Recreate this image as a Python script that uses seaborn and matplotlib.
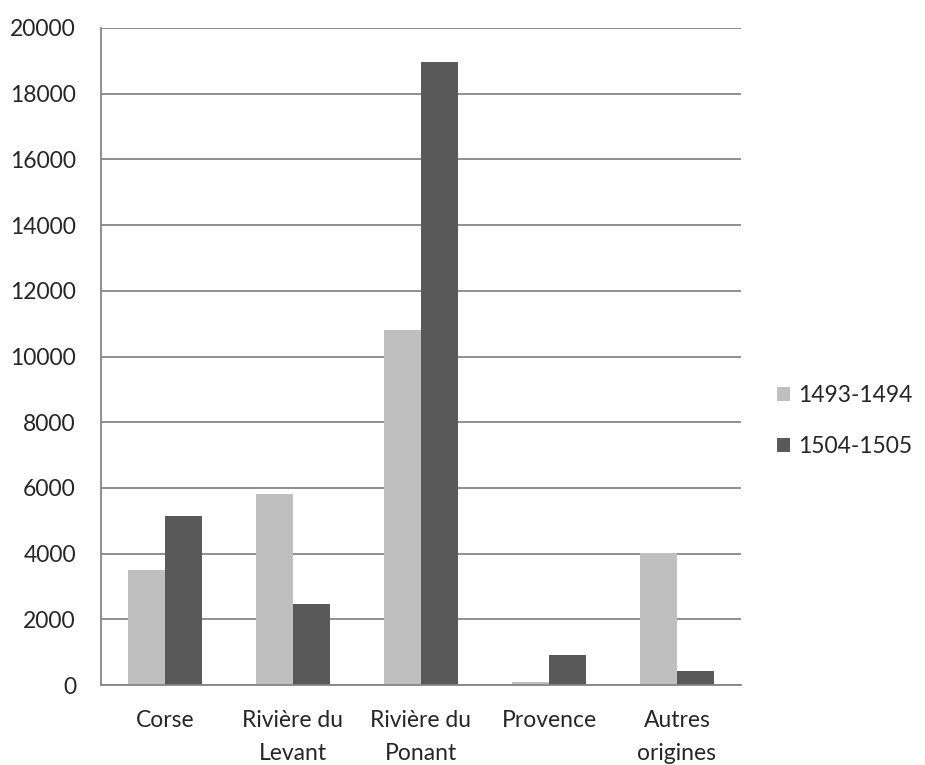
import matplotlib
matplotlib.use("Agg")
import matplotlib.pyplot as plt
import seaborn as sns
import pandas as pd
import numpy as np
from matplotlib.patches import Patch

categories = ["Corse", "Rivière du\nLevant", "Rivière du\nPonant", "Provence", "Autres\norigines"]
series_names = ["1493-1494", "1504-1505"]
values_1493 = [3510, 5820, 10800, 80, 4030]
values_1504 = [5130, 2480, 18980, 920, 420]
y_ticks = [0, 2000, 4000, 6000, 8000, 10000, 12000, 14000, 16000, 18000, 20000]

colors = ["#BFBFBF", "#595959"]
grid_color = "#868686"

df = pd.DataFrame({
    "cat": categories * 2,
    "period": [series_names[0]] * len(categories) + [series_names[1]] * len(categories),
    "value": values_1493 + values_1504,
})

sns.set_style("white")
plt.rcParams['font.family'] = ['Lato', 'DejaVu Sans']

fig = plt.figure(figsize=(9.25, 7.65), dpi=100)
ax = fig.add_axes([101/925, 1-685/765, (741-101)/925, (685-28)/765])

sns.barplot(data=df, x="cat", y="value", hue="period", palette=colors,
            width=0.573, gap=0, dodge=True, ax=ax, legend=False,
            linewidth=0, saturation=1, errorbar=None)

ax.set_xlim(-0.5, len(categories) - 0.5)
ax.set_ylim(0, 20000)
ax.set_yticks(y_ticks)
ax.set_yticklabels([str(t) for t in y_ticks], fontsize=16.5)
ax.set_xlabel("")
ax.set_ylabel("")
ax.set_xticks(range(len(categories)))
ax.set_xticklabels(categories, fontsize=16.5, linespacing=1.7)
ax.set_xticks(np.arange(-0.5, len(categories), 1.0), minor=True)
ax.tick_params(axis="x", which="major", length=0, pad=18)
ax.tick_params(axis="x", which="minor", length=7, width=1.2, color=grid_color, direction="out")
ax.tick_params(axis="y", which="major", length=7, width=1.2, color=grid_color, direction="out", pad=11)

ax.yaxis.grid(True, color=grid_color, linewidth=1.3)
ax.set_axisbelow(True)
for s in ["top", "right"]:
    ax.spines[s].set_visible(False)
for s in ["left", "bottom"]:
    ax.spines[s].set_color(grid_color)
    ax.spines[s].set_linewidth(1.3)
ax.spines["bottom"].set_zorder(5)

handles = [Patch(facecolor=c, edgecolor="none") for c in colors]
fig.legend(handles, series_names, loc="center left", bbox_to_anchor=(756/925, 1-421/765),
           frameon=False, fontsize=16.5, handlelength=0.6, handleheight=0.6,
           handletextpad=0.35, labelspacing=1.3)

fig.savefig("out.png", dpi=100)
